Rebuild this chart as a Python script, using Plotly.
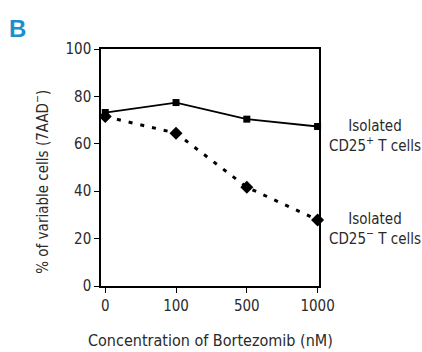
import plotly.graph_objects as go

categories = ["0", "100", "500", "1000"]
cd25_pos = [73.2, 77.4, 70.4, 67.3]
cd25_neg = [71.5, 64.5, 41.7, 27.9]
y_ticks = [0, 20, 40, 60, 80, 100]

FONT = "DejaVu Sans Condensed, Liberation Sans Narrow, Liberation Sans, sans-serif"
TXT = "#2a2a2a"

xpos = list(range(len(categories)))

fig = go.Figure()
fig.add_trace(go.Scatter(
    x=xpos, y=cd25_pos, mode="lines+markers",
    line=dict(color="black", width=1.8),
    marker=dict(symbol="square", size=7, color="black"),
    cliponaxis=False, showlegend=False))
fig.add_trace(go.Scatter(
    x=xpos, y=cd25_neg, mode="lines+markers",
    line=dict(color="black", width=3, dash="4px,8px"),
    marker=dict(symbol="diamond", size=10, color="black"),
    cliponaxis=False, showlegend=False))

fig.update_layout(
    width=422, height=352,
    margin=dict(l=101, r=103, t=49, b=66, autoexpand=False),
    plot_bgcolor="white", paper_bgcolor="white",
    font=dict(family=FONT, size=15, color=TXT),
    xaxis=dict(
        range=[-0.06, 3.02], tickmode="array", tickvals=xpos, ticktext=categories,
        showline=True, linecolor="black", linewidth=1.5, mirror=True, automargin=False,
        ticks="outside", ticklen=5, tickcolor="black", showgrid=False, zeroline=False,
    ),
    yaxis=dict(
        range=[0, 100], tickvals=y_ticks, automargin=False,
        showline=True, linecolor="black", linewidth=1.5, mirror=True,
        ticks="outside", ticklen=5, tickcolor="black", showgrid=False, zeroline=False,
    ),
    annotations=[
        dict(text="<b>B</b>", x=-0.43, y=1.15, xref="paper", yref="paper",
             showarrow=False, font=dict(family="Liberation Sans", size=24, color="#1a8fd0"),
             xanchor="left", yanchor="top"),
        dict(text="% of variable cells (7AAD<sup>−</sup>)", x=-0.275, y=0.44,
             xref="paper", yref="paper", textangle=-90, showarrow=False,
             xanchor="center", yanchor="middle", font=dict(size=15, color=TXT)),
        dict(text="Concentration of Bortezomib (nM)", x=0.5, y=-0.228,
             xref="paper", yref="paper", showarrow=False,
             xanchor="center", yanchor="middle", font=dict(size=16, color=TXT)),
        dict(text="Isolated<br>CD25<sup>+</sup> T cells", x=1.0, y=0.635, xref="paper", yref="paper",
             xshift=56, xanchor="center", yanchor="middle", showarrow=False, align="center",
             font=dict(size=15, color=TXT)),
        dict(text="Isolated<br>CD25<sup>−</sup> T cells", x=1.0, y=0.24, xref="paper", yref="paper",
             xshift=56, xanchor="center", yanchor="middle", showarrow=False, align="center",
             font=dict(size=15, color=TXT)),
    ],
)

fig.write_html("out.html")
